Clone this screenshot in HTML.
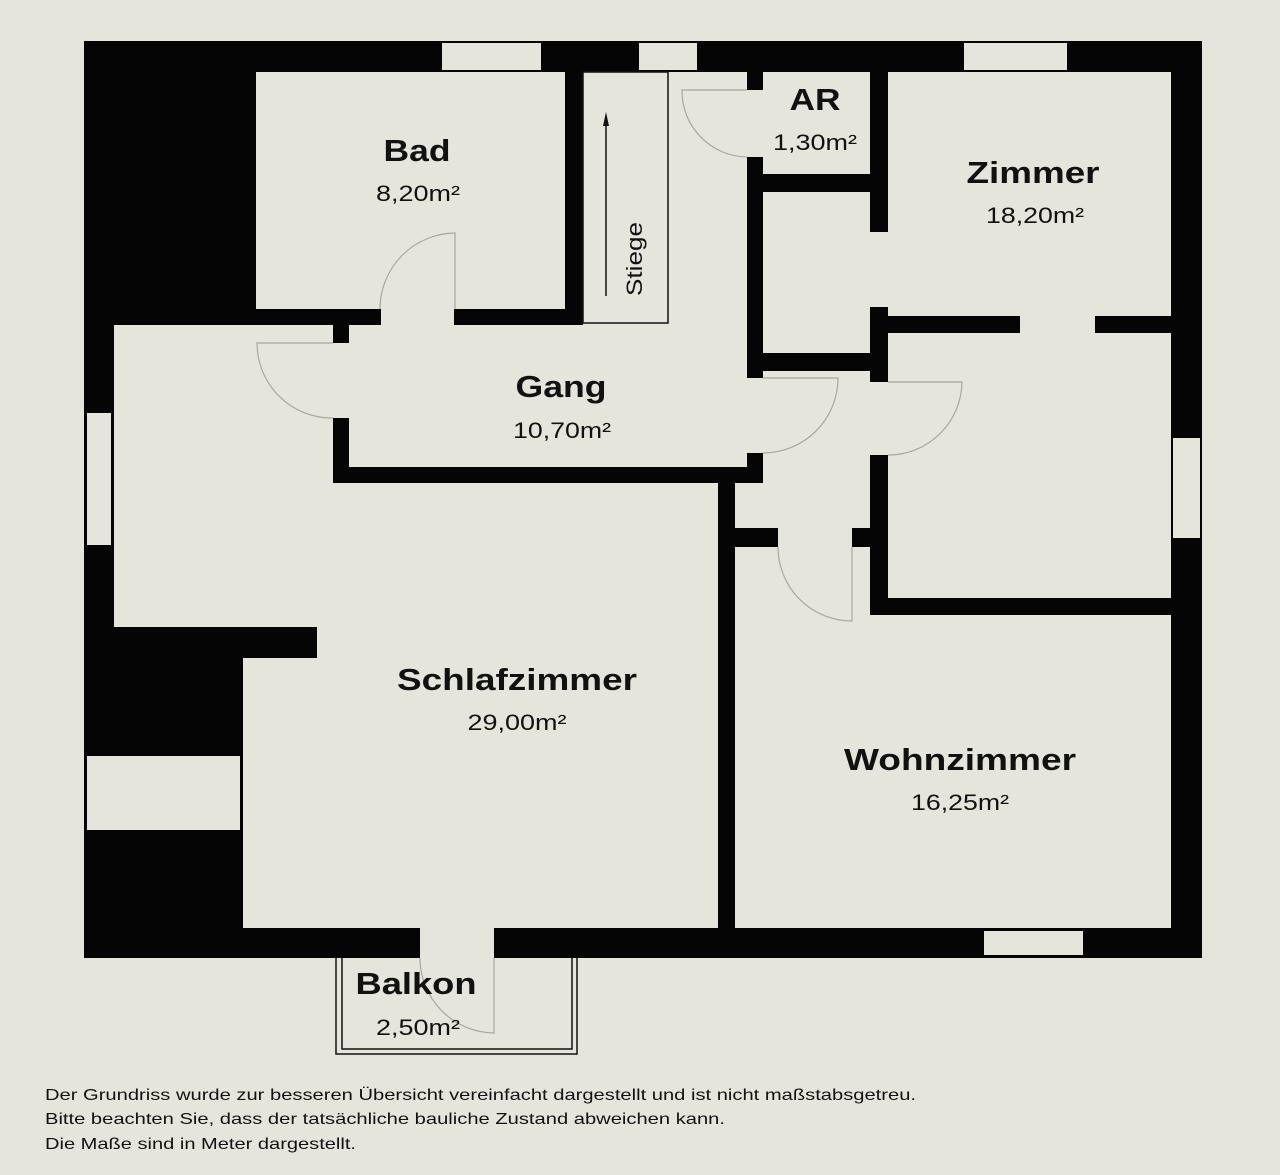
<!DOCTYPE html>
<html><head><meta charset="utf-8"><style>
html,body{margin:0;padding:0;background:#e6e5dc;}
svg{display:block;}
.t{font-family:"Liberation Sans",Arial,sans-serif;font-weight:bold;fill:#111;text-anchor:middle;}
.a{font-family:"Liberation Sans",Arial,sans-serif;fill:#111;text-anchor:middle;font-size:22px;}
.f{font-family:"Liberation Sans",Arial,sans-serif;fill:#111;font-size:16px;}
.d{fill:none;stroke:#a8a8a0;stroke-width:1.2;}
</style></head><body>
<svg width="1280" height="1175" viewBox="0 0 1280 1175" xmlns="http://www.w3.org/2000/svg">
<rect width="1280" height="1175" fill="#e6e5dc"/>
<g fill="#050505">
<rect x="84" y="41" width="1118" height="31"/>
<rect x="84" y="41" width="30" height="917"/>
<rect x="1171" y="41" width="31" height="917"/>
<rect x="84" y="928" width="1118" height="30"/>
<rect x="84" y="41" width="172" height="284"/>
<rect x="84" y="627" width="233" height="31"/>
<rect x="84" y="627" width="159" height="331"/>
<rect x="256" y="309" width="125" height="16"/>
<rect x="454" y="309" width="129" height="16"/>
<rect x="565" y="72" width="18" height="253"/>
<rect x="333" y="325" width="16" height="18"/>
<rect x="333" y="418" width="16" height="65"/>
<rect x="333" y="467" width="430" height="16"/>
<rect x="747" y="72" width="16" height="18"/>
<rect x="747" y="157" width="16" height="221"/>
<rect x="747" y="453" width="16" height="30"/>
<rect x="718" y="467" width="17" height="491"/>
<rect x="735" y="528" width="43" height="19"/>
<rect x="852" y="528" width="18" height="19"/>
<rect x="763" y="174" width="107" height="18"/>
<rect x="870" y="72" width="18" height="160"/>
<rect x="763" y="353" width="107" height="18"/>
<rect x="870" y="307" width="18" height="75"/>
<rect x="888" y="316" width="132" height="17"/>
<rect x="1095" y="316" width="76" height="17"/>
<rect x="870" y="455" width="18" height="160"/>
<rect x="870" y="598" width="301" height="17"/>
</g>
<g fill="#e6e5dc">
<rect x="442" y="43" width="99" height="27"/>
<rect x="639" y="43" width="58" height="27"/>
<rect x="964" y="43" width="103" height="27"/>
<rect x="87" y="413" width="24" height="132"/>
<rect x="1173" y="438" width="27" height="100"/>
<rect x="87" y="756" width="153" height="74"/>
<rect x="984" y="931" width="99" height="24"/>
<rect x="420" y="927" width="74" height="32"/>
</g>
<rect x="583" y="72" width="85" height="251" fill="none" stroke="#111" stroke-width="1.5"/>
<line x1="606" y1="120" x2="606" y2="296" stroke="#111" stroke-width="1.5"/>
<polygon points="606,112 603,126 609,126" fill="#111"/>
<text x="642" y="259" class="a" transform="rotate(-90 642 259)" textLength="74" lengthAdjust="spacingAndGlyphs">Stiege</text>
<path class="d" d="M455,309 L455,233 A76,76 0 0 0 380,309"/>
<path class="d" d="M333,343 L257,343 A75,75 0 0 0 333,418"/>
<path class="d" d="M747,90 L682,90 A66,66 0 0 0 747,157"/>
<path class="d" d="M763,378 L838,378 A75,75 0 0 1 763,453"/>
<path class="d" d="M888,382 L962,382 A74,74 0 0 1 888,455"/>
<path class="d" d="M852,547 L852,621 A74,74 0 0 1 778,547"/>
<path class="d" d="M494,958 L494,1033 A75,75 0 0 1 420,958"/>
<path d="M336,958 L336,1054 L577,1054 L577,958" fill="none" stroke="#111" stroke-width="1.5"/>
<path d="M342,958 L342,1049 L572,1049 L572,958" fill="none" stroke="#111" stroke-width="1.5"/>
<text class="t" x="417" y="161" font-size="31" textLength="67" lengthAdjust="spacingAndGlyphs">Bad</text>
<text class="a" x="418" y="201" textLength="84" lengthAdjust="spacingAndGlyphs">8,20m²</text>
<text class="t" x="815" y="110" font-size="31" textLength="51" lengthAdjust="spacingAndGlyphs">AR</text>
<text class="a" x="815" y="150" textLength="84" lengthAdjust="spacingAndGlyphs">1,30m²</text>
<text class="t" x="1033" y="183" font-size="31" textLength="133" lengthAdjust="spacingAndGlyphs">Zimmer</text>
<text class="a" x="1035" y="223" textLength="98" lengthAdjust="spacingAndGlyphs">18,20m²</text>
<text class="t" x="561" y="397" font-size="31" textLength="91" lengthAdjust="spacingAndGlyphs">Gang</text>
<text class="a" x="562" y="438" textLength="98" lengthAdjust="spacingAndGlyphs">10,70m²</text>
<text class="t" x="517" y="690" font-size="31" textLength="240" lengthAdjust="spacingAndGlyphs">Schlafzimmer</text>
<text class="a" x="517" y="730" textLength="99" lengthAdjust="spacingAndGlyphs">29,00m²</text>
<text class="t" x="960" y="770" font-size="31" textLength="232" lengthAdjust="spacingAndGlyphs">Wohnzimmer</text>
<text class="a" x="960" y="810" textLength="98" lengthAdjust="spacingAndGlyphs">16,25m²</text>
<text class="t" x="416" y="994" font-size="31" textLength="121" lengthAdjust="spacingAndGlyphs">Balkon</text>
<text class="a" x="418" y="1035" textLength="84" lengthAdjust="spacingAndGlyphs">2,50m²</text>
<text class="f" x="45" y="1100" textLength="871" lengthAdjust="spacingAndGlyphs">Der Grundriss wurde zur besseren Übersicht vereinfacht dargestellt und ist nicht maßstabsgetreu.</text>
<text class="f" x="45" y="1124" textLength="680" lengthAdjust="spacingAndGlyphs">Bitte beachten Sie, dass der tatsächliche bauliche Zustand abweichen kann.</text>
<text class="f" x="45" y="1149" textLength="311" lengthAdjust="spacingAndGlyphs">Die Maße sind in Meter dargestellt.</text>
</svg>
</body></html>
